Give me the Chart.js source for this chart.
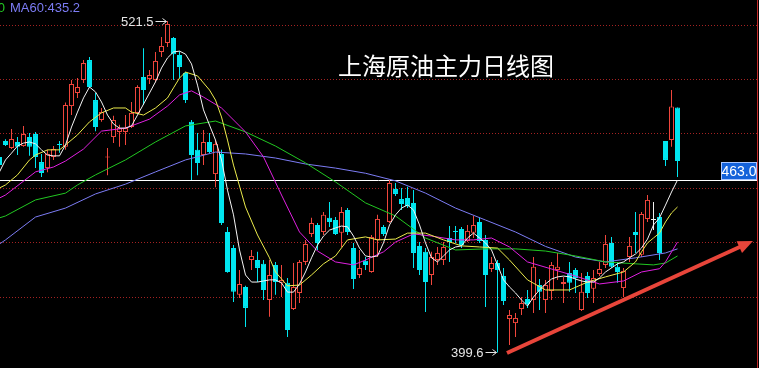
<!DOCTYPE html>
<html>
<head>
<meta charset="utf-8">
<title>上海原油主力日线图</title>
<script src="https://cdn.jsdelivr.net/npm/chart.js"></script>
<style>
  html, body { margin: 0; padding: 0; background: #000; overflow: hidden; }
  canvas { display: block; }
</style>
</head>
<body>
<canvas id="chart" width="759" height="368"></canvas>
<script>
// daily bars, index of the first one (it is cut by the left edge)
const firstBar = -1;

const opens = [
  471.5, 477.4, 474.8, 477.0, 475.5, 478.8, 479.9, 469.6, 467.4, 471.5,
  476.2, 475.2, 490.2, 495.0, 499.8, 507.1, 492.4, 485.1, 471.3, 478.8,
  480.7, 480.7, 482.5, 487.7, 500.9, 500.2, 499.8, 510.1, 513.4, 515.2,
  509.0, 502.4, 484.4, 474.1, 472.2, 477.0, 465.2, 472.6, 443.9, 438.0,
  420.8, 423.7, 433.6, 433.6, 432.2, 418.9, 431.8, 425.2, 425.2, 415.6,
  421.5, 432.9, 443.2, 446.5, 443.9, 449.1, 448.3, 443.6, 452.0, 438.0,
  428.1, 433.3, 429.2, 441.0, 445.7, 447.6, 459.7, 456.0, 456.4, 454.6,
  438.8, 436.6, 428.1, 433.6, 433.6, 441.7, 444.3, 445.0, 440.6, 443.6,
  447.6, 441.0, 430.3, 432.5, 427.7, 411.9, 410.4, 415.6, 419.3, 418.9,
  424.4, 418.9, 422.2, 429.9, 424.8, 428.8, 429.9, 415.2, 427.7, 423.0,
  428.5, 431.8, 439.9, 431.1, 423.3, 434.7, 443.9, 435.5, 448.7, 448.3,
  449.4, 477.4, 477.7, 489.7
];
const highs = [
  472.2, 478.0, 481.8, 478.8, 482.9, 480.3, 480.7, 472.6, 474.1, 475.5,
  477.4, 491.5, 499.8, 500.5, 507.1, 508.2, 495.0, 489.5, 474.8, 486.6,
  483.3, 486.9, 491.7, 497.9, 511.5, 503.5, 510.1, 515.6, 521.5, 515.6,
  510.4, 502.7, 485.1, 480.3, 481.4, 480.3, 477.7, 474.1, 445.7, 439.1,
  429.9, 424.1, 437.3, 436.6, 433.6, 433.6, 432.9, 431.8, 427.0, 432.5,
  433.6, 441.0, 449.1, 447.2, 451.3, 454.9, 449.4, 453.1, 452.7, 439.9,
  437.3, 434.7, 442.8, 450.2, 446.5, 463.0, 461.9, 460.1, 460.5, 459.3,
  440.2, 438.0, 436.6, 438.4, 440.2, 446.1, 446.1, 445.7, 446.5, 449.8,
  449.1, 442.8, 434.7, 433.6, 430.7, 415.2, 414.1, 420.0, 422.6, 434.7,
  426.6, 426.3, 432.9, 436.2, 427.4, 432.9, 430.7, 428.8, 429.2, 429.9,
  432.9, 442.8, 442.1, 432.9, 430.7, 442.1, 451.3, 451.3, 457.5, 454.9,
  450.9, 477.4, 496.1, 489.7
];
const lows = [
  467.4, 475.5, 474.4, 472.2, 475.2, 471.9, 467.4, 464.1, 465.9, 470.4,
  473.0, 474.1, 486.9, 493.2, 498.7, 496.8, 480.9, 484.4, 464.8, 476.6,
  475.2, 475.9, 482.1, 487.3, 490.6, 498.3, 499.0, 508.2, 511.9, 499.8,
  500.5, 491.3, 463.0, 464.8, 468.5, 472.9, 460.4, 446.5, 428.9, 418.2,
  419.6, 409.0, 429.9, 425.5, 418.9, 412.7, 420.8, 420.0, 405.3, 415.2,
  417.8, 431.8, 442.1, 437.3, 442.8, 445.7, 442.8, 438.4, 442.8, 422.9,
  427.0, 429.9, 428.9, 434.7, 442.4, 447.2, 457.1, 452.0, 452.7, 430.7,
  428.1, 414.5, 424.4, 431.8, 431.8, 432.9, 439.9, 438.0, 440.2, 441.7,
  439.9, 416.3, 429.2, 399.6, 417.1, 402.4, 405.3, 413.4, 416.0, 414.1,
  415.2, 414.1, 418.9, 426.3, 417.8, 421.9, 421.5, 414.9, 419.6, 417.8,
  427.7, 430.7, 430.7, 425.2, 420.0, 432.9, 436.2, 434.7, 447.6, 444.6,
  433.6, 468.2, 475.2, 464.1
];
const closes = [
  468.5, 475.9, 478.1, 475.2, 479.9, 475.2, 471.5, 465.6, 472.6, 474.4,
  475.9, 490.6, 498.3, 497.2, 506.0, 497.2, 482.5, 488.0, 471.7, 485.1,
  482.1, 482.1, 487.7, 497.2, 496.1, 501.6, 506.8, 512.3, 520.4, 509.3,
  504.6, 492.4, 472.2, 469.3, 477.0, 473.3, 476.3, 447.2, 429.2, 421.9,
  424.8, 416.0, 435.1, 430.7, 422.6, 428.1, 425.5, 426.3, 407.9, 423.7,
  432.9, 439.5, 447.2, 439.9, 450.2, 447.6, 443.2, 451.3, 443.9, 426.6,
  430.7, 431.8, 442.1, 448.7, 443.2, 461.9, 457.9, 454.2, 453.5, 436.2,
  429.9, 425.5, 434.7, 436.2, 438.4, 440.2, 443.9, 439.1, 444.3, 446.5,
  440.6, 428.1, 432.5, 429.9, 418.5, 413.4, 412.3, 417.8, 417.4, 431.1,
  421.9, 424.4, 431.8, 431.1, 425.5, 425.2, 427.0, 421.9, 421.5, 427.0,
  430.3, 439.5, 431.1, 429.2, 429.6, 438.8, 442.8, 450.5, 455.7, 448.3,
  436.2, 470.4, 490.0, 470.0
];

// moving averages
const ma5 = [
  466.0, 470.4, 472.9, 475.5, 476.6, 477.0, 476.3, 474.1, 472.2, 471.9,
  471.9, 475.9, 482.5, 488.0, 493.2, 497.2, 495.4, 491.7, 486.9, 483.6,
  482.1, 482.1, 482.9, 486.9, 490.9, 495.0, 499.1, 504.2, 507.9, 510.1,
  510.4, 509.3, 505.7, 497.9, 488.8, 483.2, 477.7, 470.4, 459.3, 450.2,
  437.3, 428.1, 425.5, 425.5, 425.9, 426.3, 426.3, 425.2, 421.8, 421.8,
  424.8, 429.2, 434.4, 439.1, 442.4, 444.6, 445.4, 446.1, 445.8, 442.4,
  438.0, 435.1, 434.7, 435.1, 439.9, 446.5, 450.2, 452.7, 453.8, 452.0,
  446.5, 439.9, 434.4, 432.9, 435.1, 437.3, 438.4, 438.8, 441.7, 443.5,
  441.7, 439.9, 437.3, 431.8, 426.3, 423.7, 421.5, 418.9, 416.7, 420.0,
  422.6, 424.8, 426.6, 427.4, 427.7, 427.4, 426.6, 425.9, 425.5, 425.5,
  427.0, 429.2, 430.7, 432.2, 432.9, 434.4, 435.8, 438.0, 441.3, 446.5,
  449.1, 453.8, 458.6, 463.0
];
const ma10Idx = [-1, 0, 2, 4, 5, 7, 9, 10, 12, 14, 16, 18, 20, 21, 23, 25, 27, 28, 29, 30,
  32, 34, 35, 36, 37, 38, 40, 42, 44, 45, 47, 49, 51, 53, 55, 57, 60, 62, 65, 67,
  70, 73, 76, 79, 82, 84, 87, 90, 94, 97, 100, 103, 105, 106, 107, 108, 109, 110, 111, 112];
const ma10 = [460.1, 461.2, 464.9, 470.4, 472.2, 474.1, 474.1, 475.9, 479.6, 484.4,
  487.7, 489.5, 489.5, 488.0, 486.9, 489.5, 493.2, 496.9, 500.5, 502.7,
  501.3, 496.1, 492.4, 486.2, 477.7, 468.5, 453.1, 442.8, 434.4, 429.2,
  424.1, 424.4, 428.1, 432.2, 435.1, 441.0, 442.1, 441.0, 441.3, 443.5,
  443.5, 441.0, 438.8, 438.4, 438.0, 433.6, 426.3, 422.6, 422.6, 425.5,
  427.4, 429.2, 432.9, 436.6, 439.9, 441.7, 443.5, 447.6, 450.9, 453.1];
const ma20Idx = [-1, 0, 5, 8, 10, 13, 16, 20, 24, 27, 29, 31, 33, 36, 40, 43, 46, 49, 52, 55,
  58, 60, 63, 65, 68, 71, 75, 78, 81, 84, 87, 91, 95, 99, 103, 106, 109, 110, 112];
const ma20 = [456.4, 457.5, 466.0, 467.8, 470.0, 474.4, 481.0, 482.1, 485.4, 490.2,
  494.3, 495.8, 493.5, 489.5, 480.7, 471.5, 457.5, 443.9, 436.9, 432.9,
  431.8, 433.6, 436.6, 440.2, 443.2, 442.4, 441.0, 441.0, 441.7, 438.4,
  432.9, 430.3, 427.7, 424.8, 425.9, 429.2, 430.4, 432.9, 440.2];
const ma40Idx = [-1, 0, 5, 10, 12, 15, 20, 25, 30, 35, 40, 45, 50, 55, 60, 65, 70, 75, 80, 85,
  90, 95, 100, 105, 108, 110, 112];
const ma40 = [449.1, 449.8, 455.7, 458.2, 461.2, 464.9, 470.4, 477.0, 482.9, 484.7,
  480.7, 475.5, 469.3, 462.3, 454.6, 449.8, 441.7, 437.3, 437.7, 437.7,
  436.9, 435.1, 432.9, 432.2, 431.8, 432.5, 435.1];
const ma60Idx = [-1, 0, 5, 10, 15, 20, 25, 30, 35, 40, 45, 50, 55, 60, 65, 70, 75, 80, 85, 90,
  95, 100, 105, 110, 112];
const ma60 = [439.5, 441.0, 449.4, 452.7, 457.9, 461.5, 466.0, 470.4, 473.3, 472.6,
  471.1, 468.9, 467.4, 465.5, 462.7, 458.2, 452.7, 448.3, 443.9, 438.6,
  434.7, 432.9, 434.4, 436.2, 437.7];

const gridLevels = [420, 440, 460, 480, 500, 520];
const lastPrice = 463.0;
const titleText = "上海原油主力日线图";
const maLabel = "MA60:435.2";
const ma40Label = "MA40:439.0";
// trend arrow, in (bar, price)
const trendFrom = [83.58, 399.4];
const trendTo = [124.58, 440.6];

const UP = "#f0463c";
const DOWN = "#00e6f0";
const FLAT = "#f0f0f0";
const COLORS = { ma5: "#f4f4f4", ma10: "#ecec4c", ma20: "#e020e0", ma40: "#22c822", ma60: "#7c7cf4" };

const bars = opens.map((_, k) => firstBar + k);
const dir = opens.map((o, k) => (closes[k] > o ? 1 : closes[k] < o ? -1 : 0));
const tone = (d) => (d > 0 ? UP : d < 0 ? DOWN : FLAT);

function maLine(label, idx, vals, color) {
  return {
    type: "line",
    label: label,
    data: idx.map((x, k) => ({ x: x, y: vals[k] })),
    borderColor: color,
    borderWidth: 1,
    pointRadius: 0,
    tension: 0,
    order: 0,
  };
}

function markExtreme(ctx, px, py, val) {
  ctx.fillStyle = "#e6e6e6";
  ctx.strokeStyle = "#e6e6e6";
  ctx.font = '13px "Liberation Sans"';
  ctx.textAlign = "right";
  ctx.textBaseline = "middle";
  ctx.fillText(val.toFixed(1), px - 14, py + 1);
  const yy = Math.round(py) + 0.5;
  ctx.lineWidth = 1;
  ctx.beginPath();
  ctx.moveTo(px - 12, yy);
  ctx.lineTo(px - 1, yy);
  ctx.stroke();
  ctx.beginPath();
  ctx.moveTo(px - 5, yy - 3);
  ctx.lineTo(px - 1, yy);
  ctx.lineTo(px - 5, yy + 3);
  ctx.stroke();
}

const overlay = {
  id: "overlay",
  beforeDatasetsDraw(chart) {
    const { ctx, chartArea, scales: { y } } = chart;
    const py = Math.round(y.getPixelForValue(lastPrice)) + 0.5;
    ctx.save();
    ctx.strokeStyle = "#ffffff";
    ctx.lineWidth = 1;
    ctx.beginPath();
    ctx.moveTo(chartArea.left, py);
    ctx.lineTo(chartArea.right, py);
    ctx.stroke();
    ctx.restore();
  },
  afterDatasetsDraw(chart) {
    const { ctx, chartArea, scales: { x, y } } = chart;
    ctx.save();

    ctx.fillStyle = "#ffffff";
    ctx.font = '24px "Noto Sans CJK SC"';
    ctx.textAlign = "left";
    ctx.textBaseline = "middle";
    ctx.fillText(titleText, 338, 66);

    // MA readout, cut off at the top-left corner
    ctx.font = '13px "Liberation Sans"';
    ctx.textBaseline = "alphabetic";
    ctx.textAlign = "right";
    ctx.fillStyle = COLORS.ma40;
    ctx.fillText(ma40Label, 5, 12);
    ctx.textAlign = "left";
    ctx.fillStyle = COLORS.ma60;
    ctx.fillText(maLabel, 10, 12);

    // highest high / lowest low
    const hi = Math.max(...highs);
    const lo = Math.min(...lows);
    markExtreme(ctx, x.getPixelForValue(firstBar + highs.indexOf(hi)), y.getPixelForValue(hi), hi);
    markExtreme(ctx, x.getPixelForValue(firstBar + lows.indexOf(lo)), y.getPixelForValue(lo), lo);

    // red trend arrow
    const ax0 = x.getPixelForValue(trendFrom[0]), ay0 = y.getPixelForValue(trendFrom[1]);
    const ax1 = x.getPixelForValue(trendTo[0]), ay1 = y.getPixelForValue(trendTo[1]);
    const ang = Math.atan2(ay1 - ay0, ax1 - ax0);
    const head = 15, half = 6.5;
    const bx = ax1 - head * Math.cos(ang), by = ay1 - head * Math.sin(ang);
    ctx.strokeStyle = "#e8453a";
    ctx.fillStyle = "#e8453a";
    ctx.lineWidth = 4;
    ctx.beginPath();
    ctx.moveTo(ax0, ay0);
    ctx.lineTo(bx + Math.cos(ang), by + Math.sin(ang));
    ctx.stroke();
    ctx.beginPath();
    ctx.moveTo(ax1, ay1);
    ctx.lineTo(bx + half * Math.sin(ang), by - half * Math.cos(ang));
    ctx.lineTo(bx - half * Math.sin(ang), by + half * Math.cos(ang));
    ctx.closePath();
    ctx.fill();

    // last price tag
    const ty = Math.round(y.getPixelForValue(lastPrice));
    const tw = 36, th = 18, tx = chartArea.right - tw;
    ctx.fillStyle = "#1462da";
    ctx.fillRect(tx, ty - th, tw, th);
    ctx.strokeStyle = "#a9c6ff";
    ctx.lineWidth = 1;
    ctx.strokeRect(tx + 0.5, ty - th + 0.5, tw - 1, th - 1);
    ctx.fillStyle = "#ffffff";
    ctx.font = '14px "Liberation Sans"';
    ctx.textAlign = "center";
    ctx.textBaseline = "middle";
    ctx.fillText(lastPrice.toFixed(1), tx + tw / 2, ty - th / 2 + 1);

    ctx.restore();
  },
};

const ctx = document.getElementById("chart").getContext("2d");
const xMin = -5.5 / 6;

new Chart(ctx, {
  type: "bar",
  data: {
    datasets: [
      maLine("MA5", bars, ma5, COLORS.ma5),
      maLine("MA10", ma10Idx, ma10, COLORS.ma10),
      maLine("MA20", ma20Idx, ma20, COLORS.ma20),
      maLine("MA40", ma40Idx, ma40, COLORS.ma40),
      maLine("MA60", ma60Idx, ma60, COLORS.ma60),
      {
        label: "body",
        data: bars.map((x, k) => ({ x: x, y: [opens[k], closes[k]] })),
        backgroundColor: dir.map((d) => (d > 0 ? "#000000" : tone(d))),
        borderColor: dir.map(tone),
        borderWidth: 1,
        borderSkipped: false,
        barThickness: 5,
        minBarLength: 1,
        inflateAmount: 0,
        grouped: false,
        order: 1,
      },
      {
        label: "wick",
        data: bars.map((x, k) => ({ x: x, y: [lows[k], highs[k]] })),
        backgroundColor: dir.map(tone),
        borderWidth: 0,
        barThickness: 1,
        inflateAmount: 0,
        grouped: false,
        order: 2,
      },
    ],
  },
  options: {
    animation: false,
    responsive: false,
    maintainAspectRatio: false,
    layout: { padding: { left: 0, right: 2, top: 0, bottom: 0 } },
    plugins: { legend: { display: false }, tooltip: { enabled: false } },
    scales: {
      x: { type: "linear", min: xMin, max: xMin + 757 / 6, offset: false, display: false },
      y: {
        position: "right",
        min: 393.9,
        max: 529.2,
        afterBuildTicks: (scale) => {
          scale.ticks = gridLevels.map((v) => ({ value: v }));
        },
        ticks: { display: false },
        grid: { color: "#a42222", lineWidth: 1, drawTicks: false },
        border: { display: true, color: "#c42a2a", dash: [1, 2] },
      },
    },
  },
  plugins: [overlay],
});
</script>
</body>
</html>
